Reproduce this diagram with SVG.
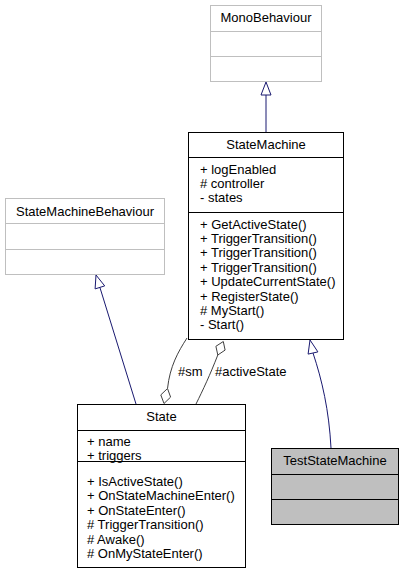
<svg xmlns="http://www.w3.org/2000/svg" width="404" height="575" viewBox="0 0 404 575">
<style>
text{font-family:"Liberation Sans",Arial,sans-serif;font-size:13px;fill:#000}
.c{text-anchor:middle}
.box{fill:#fff;stroke:#000;stroke-width:1}
.ext{fill:#fff;stroke:#bfbfbf;stroke-width:1}
.cur{fill:#bfbfbf;stroke:#000;stroke-width:1}
.inh{fill:none;stroke:#191970;stroke-width:1}
.ah{fill:#fff;stroke:#191970;stroke-width:1}
.as{fill:none;stroke:#404040;stroke-width:1}
.dm{fill:#fff;stroke:#404040;stroke-width:1}
</style>
<rect width="404" height="575" fill="#fff"/>
<g id="connectors">
<line class="inh" x1="266" y1="95" x2="266" y2="132"/>
<polygon class="ah" points="266,82 261,95 271,95"/>
<line class="inh" x1="99.9" y1="287.4" x2="136" y2="404"/>
<polygon class="ah" points="96,275 104.7,285.9 95.1,288.9"/>
<path class="inh" d="M331,448 C329,410 322,380 313,353"/>
<polygon class="ah" points="310,340 317.9,351.9 308.1,354.1"/>
<path class="as" d="M187,338 C178,352 170,366 167.5,388.5"/>
<polygon class="dm" points="167.5,388.5 170.6,397.1 164,403.5 160.8,394.9"/>
<text x="178" y="376">#sm</text>
<path class="as" d="M217.8,355 C210,375 203,390 196,404"/>
<polygon class="dm" points="223.3,341.5 225.1,350.1 217.8,355 215.9,346.3"/>
<text x="215" y="376">#activeState</text>
</g>
<g id="MonoBehaviour">
<rect class="ext" x="210.5" y="5.5" width="111" height="76"/>
<line class="ext" x1="210.5" y1="31.5" x2="321.5" y2="31.5"/>
<line class="ext" x1="210.5" y1="56.5" x2="321.5" y2="56.5"/>
<text class="c" x="266" y="22">MonoBehaviour</text>
</g>
<g id="StateMachine">
<rect class="box" x="188.5" y="132.5" width="155" height="207"/>
<line class="box" x1="188.5" y1="157.5" x2="343.5" y2="157.5"/>
<line class="box" x1="188.5" y1="212.5" x2="343.5" y2="212.5"/>
<text class="c" x="266" y="149">StateMachine</text>
<text x="200" y="173.5">+ logEnabled</text>
<text x="200" y="188">#  controller</text>
<text x="200" y="202.4">- states</text>
<text x="200" y="228.5">+ GetActiveState()</text>
<text x="200" y="243">+ TriggerTransition()</text>
<text x="200" y="257.3">+ TriggerTransition()</text>
<text x="200" y="271.7">+ TriggerTransition()</text>
<text x="200" y="286.1">+ UpdateCurrentState()</text>
<text x="200" y="300.5">+ RegisterState()</text>
<text x="200" y="314.9">#  MyStart()</text>
<text x="200" y="329.3">- Start()</text>
</g>
<g id="StateMachineBehaviour">
<rect class="ext" x="5.5" y="198.5" width="159" height="76"/>
<line class="ext" x1="5.5" y1="223.5" x2="164.5" y2="223.5"/>
<line class="ext" x1="5.5" y1="249.5" x2="164.5" y2="249.5"/>
<text class="c" x="85" y="216">StateMachineBehaviour</text>
</g>
<g id="State">
<rect class="box" x="77.5" y="404.5" width="168" height="163"/>
<line class="box" x1="77.5" y1="430.5" x2="245.5" y2="430.5"/>
<line class="box" x1="77.5" y1="461.5" x2="245.5" y2="461.5"/>
<text class="c" x="161.5" y="421">State</text>
<text x="87" y="446">+ name</text>
<text x="87" y="460.4">+ triggers</text>
<text x="87" y="486">+ IsActiveState()</text>
<text x="87" y="500.4">+ OnStateMachineEnter()</text>
<text x="87" y="514.8">+ OnStateEnter()</text>
<text x="87" y="529.2">#  TriggerTransition()</text>
<text x="87" y="543.6">#  Awake()</text>
<text x="87" y="558">#  OnMyStateEnter()</text>
</g>
<g id="TestStateMachine">
<rect class="cur" x="271.5" y="448.5" width="127" height="76"/>
<line class="cur" x1="271.5" y1="474.5" x2="398.5" y2="474.5"/>
<line class="cur" x1="271.5" y1="499.5" x2="398.5" y2="499.5"/>
<text class="c" x="335" y="465">TestStateMachine</text>
</g>
</svg>
